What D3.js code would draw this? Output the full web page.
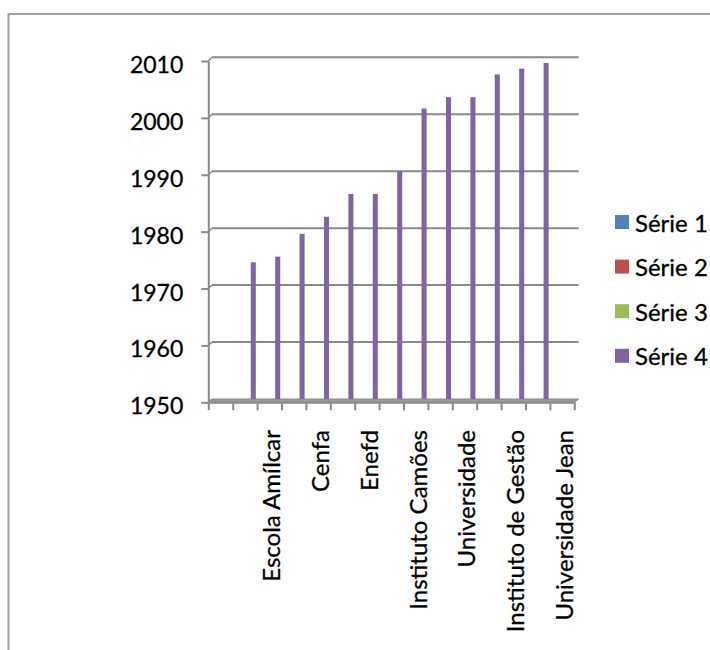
<!DOCTYPE html>
<html>
<head>
<meta charset="utf-8">
<script src="https://cdn.jsdelivr.net/npm/d3@7"></script>
<style>
  html, body { margin: 0; padding: 0; background: #fff; }
  svg { display: block; }
  text { font-family: Lato, "Open Sans", sans-serif; fill: #000; stroke: #000; stroke-width: 0.3px; }
</style>
</head>
<body>
<svg id="chart" width="710" height="650"></svg>
<script>
// ---- data ----
const categoryLabels = ["", "", "Escola Amílcar", "", "Cenfa", "", "Enefd", "",
  "Instituto Camões", "", "Universidade", "", "Instituto de Gestão", "", "Universidade Jean"];
const seriesNames = ["Série 1", "Série 2", "Série 3", "Série 4"];
const seriesColors = ["#4F81BD", "#C0504D", "#9BBB59", "#8064A2"];
const serie1 = [null, null, null, null, null, null, null, null, null, null, null, null, null, null, null];
const serie2 = [null, null, null, null, null, null, null, null, null, null, null, null, null, null, null];
const serie3 = [null, null, null, null, null, null, null, null, null, null, null, null, null, null, null];
const serie4 = [null, 1974, 1975, 1979, 1982, 1986, 1986, 1990, 2001, 2003, 2003, 2007, 2008, 2009, null];
const yTicks = [1950, 1960, 1970, 1980, 1990, 2000, 2010];

const allSeries = [serie1, serie2, serie3, serie4];

const svg = d3.select("#chart");
const FS = 23;
const FSX = 24;

// outer frame
svg.append("path")
  .attr("d", "M8.5,650 L8.5,14 L710,14")
  .attr("fill", "none").attr("stroke", "#a3a3a3").attr("stroke-width", 2);

// scales: front (axis) plane and back (wall) plane
const idx = d3.range(categoryLabels.length);
const n = categoryLabels.length;
const xFront = d3.scaleBand().domain(idx).range([208.3, 574.3]).padding(0);
const xBackLin = d3.scaleLinear().domain([0, n]).range([212, 578.7]);
const xFrontLin = d3.scaleLinear().domain([0, n]).range([208.3, 574.3]);
const yBack = d3.scaleLinear().domain([1950, 2010]).range([399, 57.3]);
const yFront = d3.scaleLinear().domain([1950, 2010]).range([402.3, 61]);
const xSeries = d3.scaleBand().domain(d3.range(seriesNames.length))
  .range([0, xFront.bandwidth()]).paddingOuter(0.18).paddingInner(0);

const gridColor = "#8a8a8a";

// back-wall gridlines
svg.append("g").selectAll("line").data(yTicks.slice(1)).join("line")
  .attr("x1", xBackLin(0)).attr("x2", xBackLin(n))
  .attr("y1", d => yBack(d)).attr("y2", d => yBack(d))
  .attr("stroke", gridColor).attr("stroke-width", 2);

// side-wall connectors
svg.append("g").selectAll("line").data(yTicks).join("line")
  .attr("x1", xFrontLin(0)).attr("x2", xBackLin(0))
  .attr("y1", d => yFront(d)).attr("y2", d => yBack(d))
  .attr("stroke", gridColor).attr("stroke-width", 1.5);

// floor
svg.append("path")
  .attr("d", `M${xFrontLin(0)},${yFront(1950)} L${xFrontLin(n)},${yFront(1950)} L${xBackLin(n)},${yBack(1950)} L${xBackLin(0)},${yBack(1950)} Z`)
  .attr("fill", "#9a9a9a").attr("stroke", gridColor).attr("stroke-width", 1);

// bars
allSeries.forEach((s, si) => {
  svg.append("g").selectAll("rect")
    .data(s.map((v, i) => ({v, i})).filter(d => d.v != null))
    .join("rect")
    .attr("x", d => xFront(d.i) + xSeries(si) + xSeries.bandwidth() * 0.05)
    .attr("width", xSeries.bandwidth() * 0.9)
    .attr("y", d => yBack(d.v))
    .attr("height", d => yBack(1950) - yBack(d.v))
    .attr("fill", seriesColors[si]);
});

// y axis
const yAxis = svg.append("g")
  .attr("transform", `translate(${xFrontLin(0)},0)`)
  .call(d3.axisLeft(yFront).tickValues(yTicks).tickFormat(d3.format("d"))
    .tickSize(7).tickSizeOuter(0).tickPadding(18));
yAxis.selectAll("path,line").attr("stroke", gridColor).attr("stroke-width", 2);
yAxis.selectAll("text").attr("font-size", FS).attr("font-family", "Lato").attr("dy", "0.5em");

// x axis (category boundary ticks)
const xAxis = svg.append("g")
  .attr("transform", `translate(0,${yFront(1950)})`)
  .call(d3.axisBottom(xFrontLin).tickValues(d3.range(n + 1)).tickFormat("")
    .tickSize(8).tickSizeOuter(0));
xAxis.selectAll("path,line").attr("stroke", gridColor).attr("stroke-width", 2);

// category labels
svg.append("g").selectAll("text")
  .data(idx.filter(i => categoryLabels[i]))
  .join("text")
  .attr("transform", i => `translate(${xFront(i) + xFront.bandwidth() / 2 + 2.5},430) rotate(-90)`)
  .attr("text-anchor", "end")
  .attr("dy", "0.35em")
  .attr("font-size", FSX)
  .text(i => categoryLabels[i]);

// legend
const legend = svg.append("g").selectAll("g").data(seriesNames).join("g")
  .attr("transform", (d, i) => `translate(615,${222 + i * 44.6})`);
legend.append("rect").attr("x", 0).attr("y", -7).attr("width", 14).attr("height", 14)
  .attr("fill", (d, i) => seriesColors[i]);
legend.append("text").attr("x", 20).attr("y", 9.5).attr("font-size", FSX).text(d => d);
</script>
</body>
</html>
